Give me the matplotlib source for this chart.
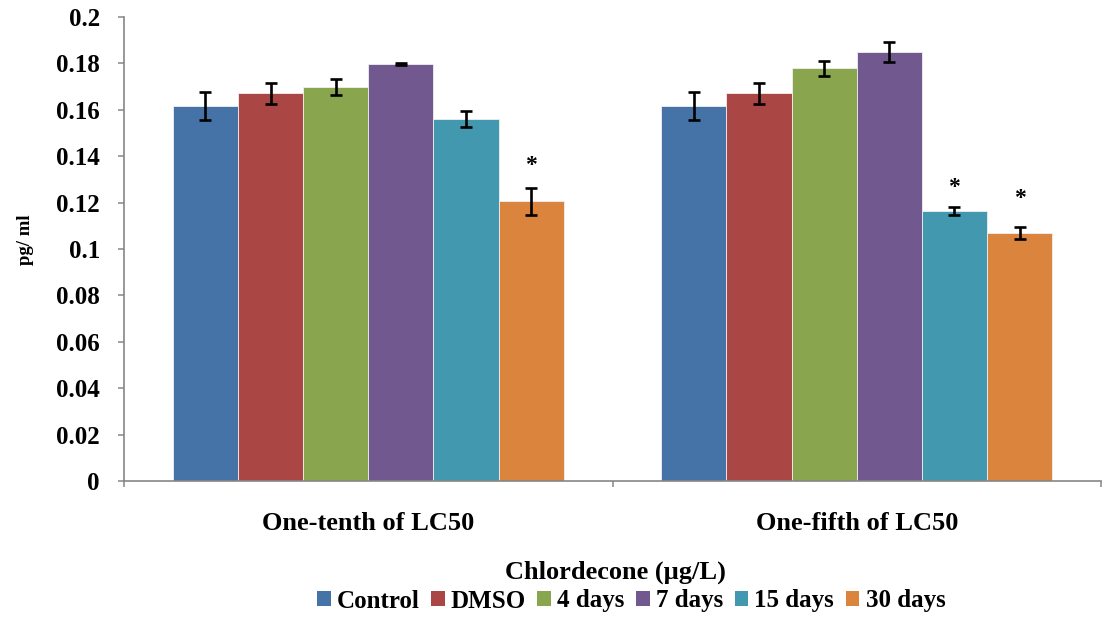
import numpy as np
import matplotlib
matplotlib.use("Agg")
import matplotlib.pyplot as plt
from matplotlib.patches import Patch

plt.rcParams["font.family"] = ["Liberation Serif", "DejaVu Serif"]
plt.rcParams["font.weight"] = "bold"

# Chlordecone exposure groups and time points
groups = ["One-tenth of LC50", "One-fifth of LC50"]
series = ["Control", "DMSO", "4 days", "7 days", "15 days", "30 days"]
colors = ["#4572A7", "#AA4643", "#89A54E", "#71588F", "#4198AF", "#DB843D"]

# mean values (pg/ml), one row per series, one column per group
means = [
    [0.1616, 0.1616],
    [0.1671, 0.1671],
    [0.1698, 0.1779],
    [0.1796, 0.1851],
    [0.1560, 0.1165],
    [0.1206, 0.1068],
]
errors = [
    [0.0060, 0.0060],
    [0.0044, 0.0044],
    [0.0033, 0.0032],
    [0.0005, 0.0043],
    [0.0034, 0.0017],
    [0.0059, 0.0027],
]
# significance marks: (series index, group index, height of asterisk centre)
stars = [(5, 0, 0.139), (4, 1, 0.1294), (5, 1, 0.1244)]

W, H = 1103, 620
fig = plt.figure(figsize=(W / 100, H / 100), dpi=100)
ax = fig.add_axes([124 / W, 1 - 481 / H, (1101 - 124) / W, (481 - 17) / H])

x = np.arange(len(groups))
n = len(series)
width = 0.8 / n
for i, name in enumerate(series):
    pos = x - 0.4 + width * (i + 0.5)
    ax.bar(pos, means[i], width, color=colors[i], edgecolor="#f0f0f0",
           linewidth=0.6, zorder=2)
    ax.errorbar(pos, means[i], yerr=errors[i], fmt="none", ecolor="black",
                elinewidth=1.9, capsize=4.3, capthick=1.9, zorder=3)

for si, gi, y in stars:
    ax.text(x[gi] - 0.4 + width * (si + 0.5), y - 0.0052, "*", ha="center",
            va="baseline", fontsize=17, fontweight="bold", color="black")

ax.set_xlim(-0.5, len(groups) - 0.5)
ax.set_ylim(0, 0.2)
ax.set_yticks(np.arange(0, 0.2001, 0.02))
ax.set_yticklabels(["0"] + [f"{v:g}" for v in np.arange(0.02, 0.2001, 0.02).round(2)])
ax.set_xticks(x)
ax.set_xticklabels(groups, fontsize=19, fontweight="bold")
ax.set_xticks(np.arange(-0.5, len(groups), 1.0), minor=True)

axis_grey = "#868686"
for side in ["top", "right"]:
    ax.spines[side].set_visible(False)
for side in ["left", "bottom"]:
    ax.spines[side].set_color(axis_grey)
    ax.spines[side].set_linewidth(1.2)

ax.tick_params(axis="y", direction="out", length=4.3, width=1.1, color=axis_grey,
               labelsize=18, pad=13)
ax.tick_params(axis="x", which="major", length=0, pad=22)
ax.tick_params(axis="x", which="minor", direction="out", length=4.3, width=1.1,
               color=axis_grey)
for lbl in ax.get_yticklabels():
    lbl.set_fontweight("bold")

fig.text(25 / W, 1 - 240 / H, "pg/ ml", rotation=90, ha="center", va="center",
         fontsize=13.5, fontweight="bold")
fig.text(615 / W, 1 - 572 / H, "Chlordecone (µg/L)", ha="center", va="center",
         fontsize=19, fontweight="bold")

handles = [Patch(facecolor=c, edgecolor="none") for c in colors]
fig.legend(handles, series, loc="center", bbox_to_anchor=(631 / W, 1 - 601 / H),
           ncol=n, frameon=False, handlelength=0.55, handleheight=0.55,
           handletextpad=0.25, columnspacing=0.45, borderpad=0,
           prop={"weight": "bold", "size": 18})

fig.savefig("out.png", dpi=100)
